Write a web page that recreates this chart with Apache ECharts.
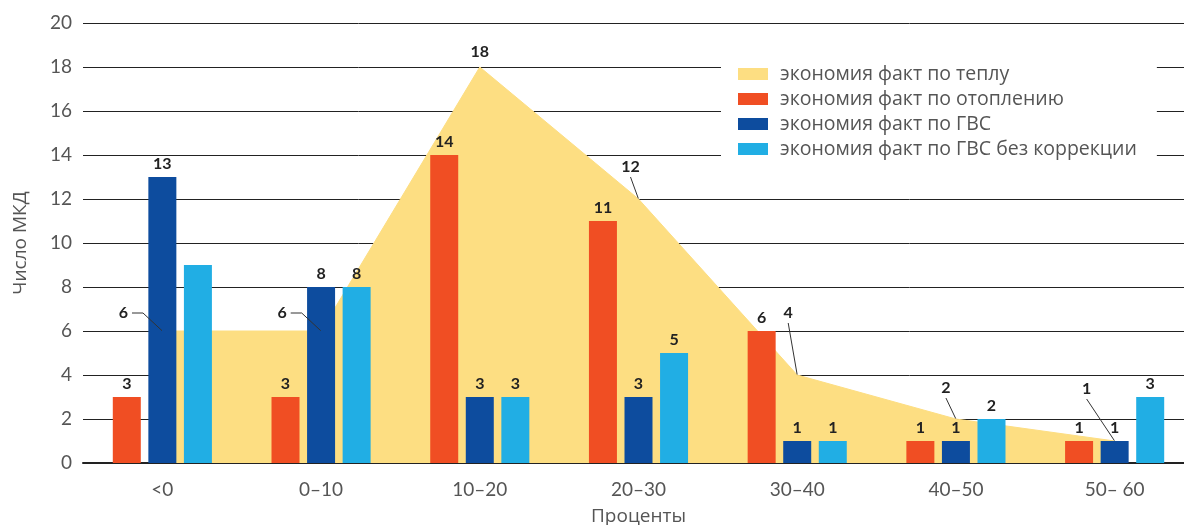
<!DOCTYPE html>
<html>
<head>
<meta charset="utf-8">
<script src="https://cdn.jsdelivr.net/npm/echarts@6/dist/echarts.min.js"></script>
<style>
html,body{margin:0;padding:0;background:#fff;}
#chart{width:1184px;height:525px;}
</style>
</head>
<body>
<div id="chart"></div>
<script>
// ---- data ----
var categories = ['<0', '0–10', '10–20', '20–30', '30–40', '40–50', '50– 60'];
var heatSaving = [6, 6, 18, 12, 4, 2, 1];        // экономия факт по теплу (area)
var heatingSaving = [3, 3, 14, 11, 6, 1, 1];      // экономия факт по отоплению
var dhwSaving = [13, 8, 3, 3, 1, 1, 1];           // экономия факт по ГВС
var dhwRawSaving = [9, 8, 3, 5, 1, 2, 3];         // экономия факт по ГВС без коррекции
var yTicks = [0, 2, 4, 6, 8, 10, 12, 14, 16, 18, 20];

var seriesNames = [
  'экономия факт по теплу',
  'экономия факт по отоплению',
  'экономия факт по ГВС',
  'экономия факт по ГВС без коррекции'
];

// ---- styling ----
var C_YELLOW = '#FDDE82';
var C_RED = '#F04E23';
var C_DARK = '#0D4C9E';
var C_LIGHT = '#21AEE4';
var FONT = 'Lato, "Open Sans", sans-serif';
var LEGEND_FONT = '"Open Sans", Lato, sans-serif';

// label offsets (annotation layout) for the area values, relative to the point
var annotOffsets = [[-39, -18], [-39, -18], [0, -15], [-8, -32], [-9, -62], [-10, -31], [-28, -52]];

var barLabel = {
  show: true,
  position: 'top',
  distance: 5,
  color: '#222',
  fontFamily: FONT,
  fontWeight: 'bold',
  fontSize: 16
};

function barData(arr, hideIdx) {
  return arr.map(function (v, i) {
    if (hideIdx && hideIdx.indexOf(i) >= 0) return { value: v, label: { show: false } };
    return v;
  });
}

var annotData = heatSaving.map(function (v, i) {
  if (i === 0 || i === 1) return { value: v, labelLine: { length2: 11 } };
  if (i === 2) return { value: v, labelLine: { show: false } };
  return v;
});

var chart = echarts.init(document.getElementById('chart'), null, { renderer: 'canvas' });

var option = {
  animation: false,
  backgroundColor: '#fff',
  grid: { left: 83, top: 23, width: 1111, height: 440, containLabel: false, outerBoundsMode: 'none' },
  legend: {
    orient: 'vertical',
    left: 721,
    top: 52,
    padding: [12, 20, 12, 17],
    itemGap: 5,
    itemWidth: 30,
    itemHeight: 12,
    backgroundColor: '#fff',
    icon: 'rect',
    data: [
      { name: seriesNames[0], itemStyle: { color: C_YELLOW, borderWidth: 0 } },
      { name: seriesNames[1] },
      { name: seriesNames[2] },
      { name: seriesNames[3] }
    ],
    textStyle: { fontFamily: LEGEND_FONT, fontSize: 19.5, color: '#555', lineHeight: 20, padding: [0, 0, 0, 7] },
    z: 10
  },
  xAxis: {
    type: 'category',
    data: categories,
    boundaryGap: true,
    name: 'Проценты',
    nameLocation: 'middle',
    nameGap: 44,
    nameTextStyle: { fontFamily: LEGEND_FONT, fontSize: 19, color: '#555' },
    axisLine: { show: true, lineStyle: { color: '#222', width: 2 } },
    axisTick: { show: false },
    axisLabel: { fontFamily: FONT, fontSize: 19, color: '#555', margin: 17 },
    splitLine: { show: false }
  },
  yAxis: {
    type: 'value',
    min: yTicks[0],
    max: yTicks[yTicks.length - 1],
    interval: 2,
    name: 'Число МКД',
    nameLocation: 'middle',
    nameGap: 53,
    nameTextStyle: { fontFamily: LEGEND_FONT, fontSize: 19, color: '#555' },
    axisLine: { show: false },
    axisTick: { show: false },
    axisLabel: { fontFamily: FONT, fontSize: 19, color: '#555', margin: 11 },
    splitLine: { show: true, lineStyle: { color: '#222', width: 1 } }
  },
  series: [
    {
      name: seriesNames[0],
      type: 'line',
      data: heatSaving,
      z: 1,
      symbol: 'none',
      lineStyle: { color: C_YELLOW, width: 1 },
      itemStyle: { color: C_YELLOW },
      areaStyle: { color: C_YELLOW, opacity: 1 },
      emphasis: { disabled: true },
      silent: true
    },
    {
      name: seriesNames[1],
      type: 'bar',
      data: barData(heatingSaving),
      barWidth: 28,
      barGap: '27%',
      itemStyle: { color: C_RED },
      label: barLabel,
      z: 2
    },
    {
      name: seriesNames[2],
      type: 'bar',
      data: barData(dhwSaving),
      barWidth: 28,
      barGap: '27%',
      itemStyle: { color: C_DARK },
      label: barLabel,
      z: 2
    },
    {
      name: seriesNames[3],
      type: 'bar',
      data: barData(dhwRawSaving, [0]),
      barWidth: 28,
      barGap: '27%',
      itemStyle: { color: C_LIGHT },
      label: barLabel,
      z: 2
    },
    {
      name: 'annot',
      type: 'line',
      data: annotData,
      z: 5,
      symbol: 'circle',
      symbolSize: 1,
      itemStyle: { color: 'rgba(0,0,0,0)' },
      lineStyle: { opacity: 0 },
      silent: true,
      label: {
        show: true,
        position: 'inside',
        color: '#222',
        fontFamily: FONT,
        fontWeight: 'bold',
        fontSize: 16,
        padding: [0, 4, 4, 4],
        backgroundColor: 'rgba(255,255,255,0)'
      },
      labelLine: {
        show: true,
        length2: 0,
        minTurnAngle: 0,
        lineStyle: { color: '#333', width: 1 }
      },
      labelLayout: function (params) {
        var o = annotOffsets[params.dataIndex] || [0, 0];
        return { dx: o[0], dy: o[1] };
      }
    }
  ]
};

chart.setOption(option);
</script>
</body>
</html>
